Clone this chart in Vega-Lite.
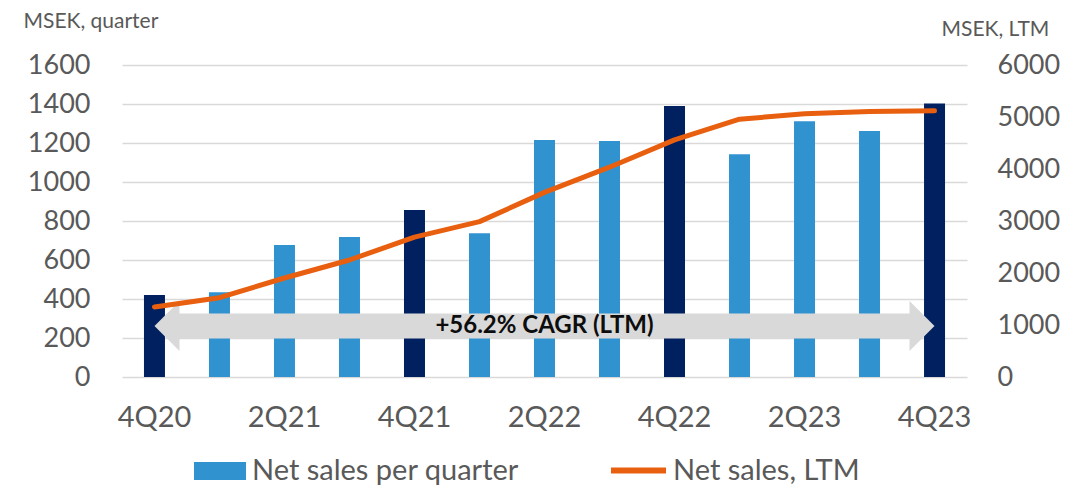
{
  "$schema": "https://vega.github.io/schema/vega-lite/v6.json",
  "width": 845,
  "height": 312,
  "autosize": {"type": "none"},
  "padding": {"left": 122, "top": 65, "right": 125, "bottom": 109},
  "config": {
    "font": "Lato",
    "view": {"stroke": null},
    "axis": {"labelFont": "Lato", "titleFont": "Lato", "labelColor": "#595959", "titleColor": "#595959", "labelOverlap": false}
  },
  "datasets": {
    "sales": [
      {"q": "4Q20", "sales": 420, "ltm": 1346, "series": "Q4"},
      {"q": "1Q21", "sales": 434, "ltm": 1525, "series": "Net sales per quarter"},
      {"q": "2Q21", "sales": 677, "ltm": 1904, "series": "Net sales per quarter"},
      {"q": "3Q21", "sales": 718, "ltm": 2250, "series": "Net sales per quarter"},
      {"q": "4Q21", "sales": 856, "ltm": 2690, "series": "Q4"},
      {"q": "1Q22", "sales": 737, "ltm": 2988, "series": "Net sales per quarter"},
      {"q": "2Q22", "sales": 1215, "ltm": 3550, "series": "Net sales per quarter"},
      {"q": "3Q22", "sales": 1210, "ltm": 4035, "series": "Net sales per quarter"},
      {"q": "4Q22", "sales": 1390, "ltm": 4560, "series": "Q4"},
      {"q": "1Q23", "sales": 1142, "ltm": 4957, "series": "Net sales per quarter"},
      {"q": "2Q23", "sales": 1311, "ltm": 5062, "series": "Net sales per quarter"},
      {"q": "3Q23", "sales": 1261, "ltm": 5105, "series": "Net sales per quarter"},
      {"q": "4Q23", "sales": 1402, "ltm": 5118, "series": "Q4"}
    ],
    "arrow": [
      {"q": "4Q20", "q2": "4Q23", "mid": "2Q22", "level": 262, "label": "+56.2% CAGR (LTM)"}
    ]
  },
  "layer": [
    {
      "layer": [
        {
          "data": {"name": "sales"},
          "mark": {"type": "bar"},
          "encoding": {
            "x": {
              "field": "q", "type": "nominal",
              "scale": {"domain": ["4Q20","1Q21","2Q21","3Q21","4Q21","1Q22","2Q22","3Q22","4Q22","1Q23","2Q23","3Q23","4Q23"], "paddingInner": 0.677, "paddingOuter": 0.338},
              "axis": {
                "orient": "bottom", "title": null, "values": ["4Q20","2Q21","4Q21","2Q22","4Q22","2Q23","4Q23"],
                "labelAngle": 0, "labelFontSize": 29, "labelPadding": 26, "domain": false, "ticks": false, "grid": false
              }
            },
            "y": {
              "field": "sales", "type": "quantitative",
              "scale": {"domain": [0, 1600], "nice": false},
              "axis": {
                "orient": "left", "values": [0,200,400,600,800,1000,1200,1400,1600], "format": "d", "tickCount": 9,
                "grid": true, "gridColor": "#D9D9D9", "gridWidth": 1.5, "gridOpacity": 1, "domain": false, "ticks": false,
                "labelPadding": 32, "labelFontSize": 27, "labelOverlap": false,
                "title": "MSEK, quarter", "titleAngle": 0, "titleAlign": "left", "titleBaseline": "alphabetic",
                "titleX": -99, "titleY": -38, "titleFontSize": 21, "titleFontWeight": "normal"
              }
            },
            "color": {
              "field": "series", "type": "nominal",
              "scale": {"domain": ["Net sales per quarter", "Q4"], "range": ["#3192D0", "#002060"]},
              "legend": {
                "title": null, "values": ["Net sales per quarter"], "orient": "none", "legendX": 72, "legendY": 380,
                "symbolType": "M-1,-0.35L1,-0.35L1,0.35L-1,0.35Z", "symbolSize": 2704, "symbolStrokeWidth": 0,
                "symbolOpacity": 1, "labelFontSize": 29, "labelColor": "#595959", "labelFont": "Lato", "labelOffset": 6,
                "labelLimit": 0, "padding": 0
              }
            }
          }
        },
        {
          "data": {"name": "arrow"},
          "mark": {"type": "rule", "color": "#D9D9D9", "strokeWidth": 25, "strokeCap": "butt", "xOffset": 24, "x2Offset": -24},
          "encoding": {
            "x": {"field": "q", "type": "nominal"},
            "x2": {"field": "q2"},
            "y": {"field": "level", "type": "quantitative", "scale": {"domain": [0, 1600], "nice": false}}
          }
        },
        {
          "data": {"name": "arrow"},
          "mark": {"type": "point", "shape": "M0,0L1,-1L1,1Z", "size": 2500, "filled": true, "opacity": 1, "color": "#D9D9D9", "strokeWidth": 0},
          "encoding": {
            "x": {"field": "q", "type": "nominal"},
            "y": {"field": "level", "type": "quantitative", "scale": {"domain": [0, 1600], "nice": false}}
          }
        },
        {
          "data": {"name": "arrow"},
          "mark": {"type": "point", "shape": "M0,0L-1,-1L-1,1Z", "size": 2500, "filled": true, "opacity": 1, "color": "#D9D9D9", "strokeWidth": 0},
          "encoding": {
            "x": {"field": "q2", "type": "nominal"},
            "y": {"field": "level", "type": "quantitative", "scale": {"domain": [0, 1600], "nice": false}}
          }
        },
        {
          "data": {"name": "arrow"},
          "mark": {"type": "text", "font": "Lato", "fontWeight": "bold", "fontSize": 24, "color": "#0D0D0D", "baseline": "middle", "align": "center"},
          "encoding": {
            "x": {"field": "mid", "type": "nominal"},
            "y": {"field": "level", "type": "quantitative", "scale": {"domain": [0, 1600], "nice": false}},
            "text": {"field": "label"}
          }
        }
      ]
    },
    {
      "data": {"name": "sales"},
      "mark": {"type": "line", "strokeWidth": 5, "strokeCap": "round", "strokeJoin": "round"},
      "encoding": {
        "x": {"field": "q", "type": "nominal"},
        "y": {
          "field": "ltm", "type": "quantitative",
          "scale": {"domain": [0, 6000], "nice": false},
          "axis": {
            "orient": "right", "values": [0,1000,2000,3000,4000,5000,6000], "format": "d",
            "grid": false, "domain": false, "ticks": false, "labelPadding": 30, "labelFontSize": 27,
            "title": "MSEK, LTM", "titleAngle": 0, "titleAlign": "left", "titleBaseline": "alphabetic",
            "titleX": -26, "titleY": -30, "titleFontSize": 21, "titleFontWeight": "normal"
          }
        },
        "stroke": {
          "datum": "Net sales, LTM",
          "scale": {"range": ["#E8600F"]},
          "legend": {
            "title": null, "orient": "none", "legendX": 486, "legendY": 375,
            "symbolType": "stroke", "symbolSize": 3025, "symbolStrokeWidth": 6,
            "labelFontSize": 29, "labelColor": "#595959", "labelFont": "Lato", "labelOffset": 4,
            "labelLimit": 0, "padding": 0
          }
        }
      }
    }
  ],
  "resolve": {"scale": {"y": "independent"}}
}
